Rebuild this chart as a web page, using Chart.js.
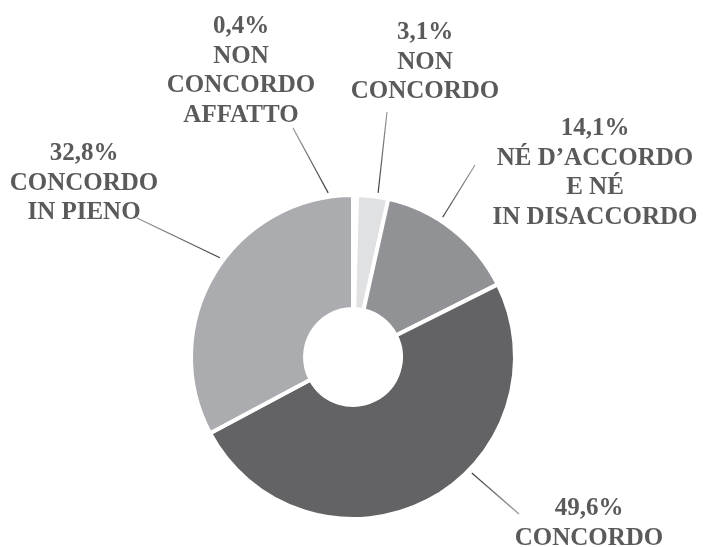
<!DOCTYPE html>
<html>
<head>
<meta charset="utf-8">
<script src="https://cdn.jsdelivr.net/npm/chart.js@4/dist/chart.umd.min.js"></script>
<style>
body{margin:0;background:#fff;}
#wrap{width:703px;height:547px;position:relative;}
</style>
</head>
<body>
<div id="wrap"><canvas id="pieChart"></canvas></div>
<script>
// data
const categories=['NON CONCORDO AFFATTO','NON CONCORDO','NÉ D’ACCORDO E NÉ IN DISACCORDO','CONCORDO','CONCORDO IN PIENO'];
const values=[0.4,3.1,14.1,49.6,32.8];
const labelLines=[
['NON','CONCORDO','AFFATTO'],
['NON','CONCORDO'],
['NÉ D’ACCORDO','E NÉ','IN DISACCORDO'],
['CONCORDO'],
['CONCORDO','IN PIENO']
];

const sliceColors=['#f6f6f6','#e0e1e3','#919296','#636366','#abacb0'];

// where each label block sits and where its leader line goes
const labelLayout=[
{x:241,y:33,angle:351.4,end:[293,128]},
{x:425,y:39,angle:8.7,end:[387,112]},
{x:595,y:135,angle:32.7,end:[475,165]},
{x:589,y:515,angle:134.3,end:[519,514]},
{x:84,y:160,angle:306.7,end:[137,218]}
];

const fmt=v=>v.toFixed(1).replace('.',',')+'%';

const labelPlugin={
id:'calloutLabels',
afterDraw(chart){
const ctx=chart.ctx;
const meta=chart.getDatasetMeta(0);
ctx.save();
meta.data.forEach((arc,i)=>{
const lay=labelLayout[i];
const a=lay.angle*Math.PI/180;
const r=arc.outerRadius+4;
const sx=arc.x+r*Math.sin(a);
const sy=arc.y-r*Math.cos(a);
const grad=ctx.createLinearGradient(sx,sy,lay.end[0],lay.end[1]);
grad.addColorStop(0,'#3f3f3f');
grad.addColorStop(1,'#9a9a9a');
ctx.strokeStyle=grad;
ctx.lineWidth=1.2;
ctx.beginPath();
ctx.moveTo(sx,sy);
ctx.lineTo(lay.end[0],lay.end[1]);
ctx.stroke();

ctx.fillStyle='#5a5a5a';
ctx.textAlign='center';
ctx.textBaseline='alphabetic';
ctx.font='bold 25px "Liberation Serif"';
const lines=[fmt(values[i])].concat(labelLines[i]);
lines.forEach((t,k)=>{
ctx.fillText(t,lay.x,lay.y+k*29.5);
});
});
ctx.restore();
}
};

new Chart(document.getElementById('pieChart'),{
type:'doughnut',
data:{
labels:categories,
datasets:[{
data:values,
backgroundColor:sliceColors,
borderColor:'#ffffff',
borderWidth:4,
hoverBorderWidth:4,
hoverOffset:0
}]
},
options:{
responsive:true,
maintainAspectRatio:false,
animation:false,
cutout:'29.6%',
rotation:0,
layout:{padding:{left:189,top:193,right:186,bottom:26}},
plugins:{legend:{display:false},tooltip:{enabled:false}},
events:[]
},
plugins:[labelPlugin]
});
</script>
</body>
</html>
